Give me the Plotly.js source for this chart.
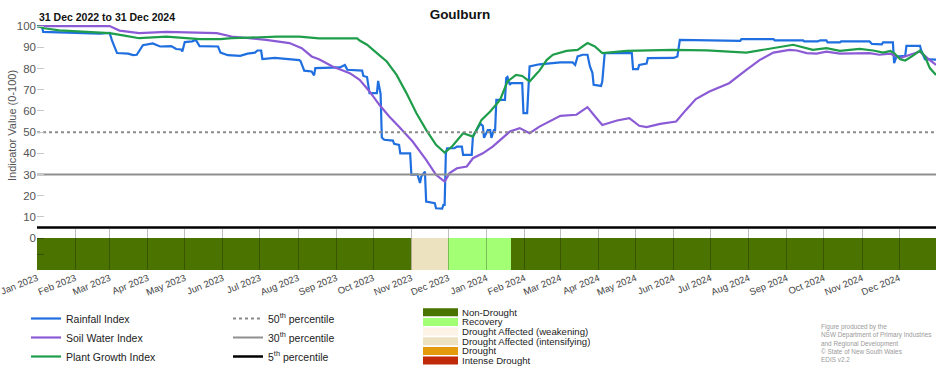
<!DOCTYPE html>
<html><head><meta charset="utf-8">
<script src="https://cdn.plot.ly/plotly-3.0.1.min.js"></script>
<style>html,body{margin:0;padding:0;background:#fff}#chart{width:952px;height:370px}</style>
</head><body><div id="chart"></div>
<script>
const regionName = 'Goulburn';
const periodLabel = '31 Dec 2022 to 31 Dec 2024';
const yAxisLabel = 'Indicator Value (0-100)';
const dateRange = ['2023-01-01', '2024-12-31'];
const yTickValues = [10, 20, 30, 40, 50, 60, 70, 80, 90, 100];

const rainfallDates = ['2023-01-01','2023-01-05','2023-01-06','2023-02-01','2023-02-21','2023-03-01','2023-03-03','2023-03-07','2023-03-16','2023-03-20','2023-03-23','2023-03-28','2023-04-05','2023-04-11','2023-04-20','2023-04-24','2023-04-28','2023-04-29','2023-05-01','2023-05-07','2023-05-10','2023-05-13','2023-05-28','2023-05-30','2023-06-05','2023-06-15','2023-06-21','2023-06-27','2023-06-29','2023-07-02','2023-07-03','2023-07-13','2023-07-25','2023-08-02','2023-08-03','2023-08-06','2023-08-12','2023-08-14','2023-08-15','2023-08-29','2023-09-04','2023-09-08','2023-09-10','2023-09-22','2023-09-23','2023-09-26','2023-09-27','2023-09-28','2023-10-04','2023-10-05','2023-10-07','2023-10-08','2023-10-10','2023-10-17','2023-10-18','2023-10-22','2023-10-23','2023-10-31','2023-11-01','2023-11-06','2023-11-08','2023-11-09','2023-11-12','2023-11-13','2023-11-20','2023-11-21','2023-11-26','2023-11-27','2023-11-28','2023-11-29','2023-11-30','2023-12-06','2023-12-08','2023-12-12','2023-12-13','2023-12-20','2023-12-21','2023-12-23','2023-12-25','2023-12-27','2023-12-29','2023-12-30','2024-01-02','2024-01-04','2024-01-05','2024-01-07','2024-01-08','2024-01-09','2024-01-16','2024-01-17','2024-01-18','2024-01-20','2024-01-21','2024-01-30','2024-01-31','2024-02-03','2024-02-05','2024-02-13','2024-03-01','2024-03-11','2024-03-13','2024-03-15','2024-03-19','2024-03-23','2024-03-25','2024-03-27','2024-03-28','2024-04-03','2024-04-04','2024-04-06','2024-04-28','2024-04-29','2024-05-03','2024-05-04','2024-05-10','2024-05-11','2024-06-01','2024-06-04','2024-06-06','2024-06-28','2024-07-25','2024-07-26','2024-08-21','2024-08-22','2024-09-14','2024-09-15','2024-09-26','2024-09-28','2024-10-03','2024-10-04','2024-10-14','2024-10-15','2024-11-07','2024-11-09','2024-11-17','2024-11-18','2024-11-26','2024-11-27','2024-11-29','2024-12-06','2024-12-07','2024-12-18','2024-12-19','2024-12-22','2024-12-31'];
const rainfallValues = [100,100,97.3,96.8,96.5,96.8,93,87.3,87,86.3,86.5,91,91.8,90.4,90.6,89.2,89,88,92.5,92.8,93.5,90.6,90.4,87.5,86.3,86,87,87.5,88.5,88.5,84.5,85,84.5,84,83.5,79,78.6,76.8,80.2,80.2,80.5,81.7,79.4,79,76.5,76,73,68.4,68.4,74.2,68,47.5,46.4,46,44.5,44,40,40,30,30,26,29,31.4,17.3,16.5,14.1,14,15.7,15.7,40,42.4,42.4,43.2,43.2,39.3,39.3,48,50,52,54,53,47.3,51,51,47.3,51,51,65.2,65.2,75.5,76,72.3,73.1,73.1,59,59,81,82,82.9,82.9,81.7,85.7,86.5,86.5,81,78,72.3,71.8,73.9,87.3,87.3,79.7,79.7,81.7,82.3,84.9,85,85.7,93.5,93.3,93,93.9,93.9,93.3,93.3,92.8,92.8,93.3,93.3,92.3,92.3,92.8,92.8,91.6,91.4,92.3,92.3,82.5,85.7,86,90.7,90.7,88.5,84.4,84.2];

const soilDates = ['2023-01-01','2023-03-01','2023-03-09','2023-03-25','2023-04-16','2023-05-27','2023-06-08','2023-07-06','2023-07-25','2023-08-04','2023-08-12','2023-08-18','2023-08-29','2023-09-12','2023-09-20','2023-09-28','2023-10-06','2023-10-14','2023-10-22','2023-11-02','2023-11-13','2023-11-21','2023-11-28','2023-12-02','2023-12-08','2023-12-16','2023-12-21','2023-12-29','2024-01-06','2024-01-14','2024-01-20','2024-01-28','2024-02-05','2024-02-13','2024-02-21','2024-03-01','2024-03-14','2024-03-23','2024-03-29','2024-04-04','2024-04-16','2024-04-26','2024-05-04','2024-05-10','2024-05-21','2024-06-03','2024-06-11','2024-06-19','2024-06-30','2024-07-16','2024-07-30','2024-08-10','2024-08-21','2024-09-03','2024-09-09','2024-09-17','2024-09-25','2024-10-03','2024-10-14','2024-11-07','2024-11-15','2024-11-24','2024-11-29','2024-12-02','2024-12-10','2024-12-18','2024-12-24','2024-12-31'];
const soilValues = [100,100,97.9,96.7,97.3,96.7,95.1,93.5,92,89.6,85.7,84.4,81,77.8,74.7,69.2,62.9,57.4,52.6,45.6,36.9,29.9,26.7,30.7,33,33.8,37.7,40,43.2,47.2,50.3,51.9,49.5,52.6,55,57.7,58.2,61.8,57.5,53.4,55.5,56.6,53,52.4,53.9,55,60.5,65.6,69.2,73.1,79.4,84.1,87.5,88.8,88.5,87.3,87,88,87,87.3,86.5,87,85.7,84.9,86.5,88,84.9,81.7];

const plantDates = ['2023-01-01','2023-01-05','2023-01-07','2023-01-19','2023-02-07','2023-03-01','2023-03-13','2023-03-25','2023-04-16','2023-05-13','2023-05-30','2023-06-08','2023-07-15','2023-08-02','2023-08-18','2023-09-18','2023-09-20','2023-09-26','2023-10-04','2023-10-12','2023-10-20','2023-10-28','2023-11-05','2023-11-13','2023-11-21','2023-11-28','2023-12-04','2023-12-13','2023-12-21','2023-12-28','2024-01-04','2024-01-12','2024-01-18','2024-01-25','2024-01-30','2024-02-05','2024-02-11','2024-02-13','2024-02-19','2024-02-24','2024-03-06','2024-03-15','2024-03-23','2024-03-29','2024-04-04','2024-04-24','2024-05-31','2024-06-28','2024-07-30','2024-08-21','2024-09-06','2024-09-22','2024-10-03','2024-10-14','2024-10-30','2024-11-10','2024-11-18','2024-11-24','2024-11-27','2024-12-02','2024-12-06','2024-12-12','2024-12-18','2024-12-22','2024-12-26','2024-12-31'];
const plantValues = [100,99.5,99,98,97.5,96.7,95.5,94.3,95,93.9,93.9,94.3,95,95,94.2,94.2,93.2,91.2,87.3,83.3,77,68.4,59,51.1,44,40.4,43.2,49.5,47.9,55.8,59.7,65.2,73.9,77,76.5,73.9,77.8,79,84.1,86.5,88.3,88.8,92,90.4,87.3,88.3,88.8,88.6,87.5,89.6,91.2,88.8,89.6,88.3,89.3,88.5,87.5,88.3,87.3,84.4,83.8,86,88.5,85.7,80.2,77];

const indexNames = ['Rainfall Index', 'Soil Water Index', 'Plant Growth Index'];
const indexColors = ['#1f6fe0', '#8b5bd6', '#1e9d4a'];

const percentileValues = [50, 30, 5];
const percentileNames = ['50<sup>th</sup> percentile', '30<sup>th</sup> percentile', '5<sup>th</sup> percentile'];

const droughtCategories = ['Non-Drought', 'Recovery', 'Drought Affected (weakening)', 'Drought Affected (intensifying)', 'Drought', 'Intense Drought'];
const droughtColors = ['#4b7300', '#a3ff73', '#fcf3e6', '#ede2c0', '#e39a0b', '#c02a08'];
const droughtStart = ['2023-01-01', '2023-11-01', '2023-12-01', '2024-01-21'];
const droughtEnd = ['2023-11-01', '2023-12-01', '2024-01-21', '2025-01-01'];
const droughtStatus = ['Non-Drought', 'Drought Affected (intensifying)', 'Recovery', 'Non-Drought'];

const creditLines = ['Figure produced by the', 'NSW Department of Primary Industries', 'and Regional Development', '\u00a9 State of New South Wales', 'EDIS v2.2'];

const FONT = '"Liberation Sans", Arial, Helvetica, sans-serif';

const indexSeries = [[rainfallDates, rainfallValues], [soilDates, soilValues], [plantDates, plantValues]];
const traces = [];
indexSeries.forEach(function (s, i) {
  traces.push({
    type: 'scatter', mode: 'lines', x: s[0], y: s[1], name: indexNames[i],
    xaxis: 'x', yaxis: 'y', legend: 'legend',
    line: {color: indexColors[i], width: 2.2}, hoverinfo: 'x+y+name'
  });
});
const pctStyles = [
  {color: '#8a8a8a', width: 2, dash: 'dot'},
  {color: '#8f8f8f', width: 2, dash: 'solid'},
  {color: '#000000', width: 2.5, dash: 'solid'}
];
percentileValues.forEach(function (v, i) {
  traces.push({
    type: 'scatter', mode: 'lines', x: dateRange, y: [v, v], name: percentileNames[i],
    xaxis: 'x', yaxis: 'y', legend: 'legend2', line: pctStyles[i], hoverinfo: 'name'
  });
});
traces.push({
  type: 'bar', xaxis: 'x2', yaxis: 'y2', showlegend: false,
  x: droughtStart,
  y: droughtStart.map(function () { return 15; }),
  base: -15,
  offset: 0,
  width: droughtStart.map(function (d, i) { return Date.parse(droughtEnd[i]) - Date.parse(d); }),
  marker: {color: droughtStatus.map(function (s) { return droughtColors[droughtCategories.indexOf(s)]; }), line: {width: 0}},
  text: droughtStatus, hoverinfo: 'text', textposition: 'none'
});

// plot geometry helpers (pixel -> paper)
const L = 37, R = 16, T = 24, B = 100, W = 952, H = 370;
const PW = W - L - R, PH = H - T - B;
function px2x(px) { return (px - L) / PW; }
function py2y(py) { return (H - B - py) / PH; }

const annotations = [
  {xref: 'paper', yref: 'paper', x: 0, y: py2y(17), xanchor: 'left', yanchor: 'middle', showarrow: false,
   text: '<b>' + periodLabel + '</b>', font: {size: 10.5, color: '#111', family: FONT}},
  {xref: 'paper', yref: 'paper', x: px2x(12), y: py2y(126), xanchor: 'center', yanchor: 'middle', showarrow: false,
   textangle: -90, text: yAxisLabel, font: {size: 11, color: '#555', family: FONT}},
  {xref: 'paper', yref: 'paper', x: px2x(819), y: py2y(321), xanchor: 'left', yanchor: 'top', align: 'left', showarrow: false,
   text: creditLines.join('<br>'), font: {size: 6.4, color: '#9a9a9a', family: FONT}}
];
const shapes = [];
droughtCategories.forEach(function (c, i) {
  const yc = 312.3 + i * 9.65;
  shapes.push({type: 'rect', xref: 'paper', yref: 'paper', x0: px2x(423), x1: px2x(458),
    y0: py2y(yc - 4), y1: py2y(yc + 4), fillcolor: droughtColors[i], line: {width: 0}, layer: 'above'});
  annotations.push({xref: 'paper', yref: 'paper', x: px2x(461), y: py2y(yc), xanchor: 'left', yanchor: 'middle',
    showarrow: false, text: c, height: 11, borderpad: 0, font: {size: 9.6, color: '#222', family: FONT}});
});

const layout = {
  width: W, height: H,
  margin: {l: L, r: R, t: T, b: B, autoexpand: false},
  paper_bgcolor: '#ffffff', plot_bgcolor: 'rgba(0,0,0,0)',
  font: {family: FONT, size: 11, color: '#444'},
  title: {text: regionName, xref: 'container', yref: 'container', x: 460 / W, y: 1 - 14 / H,
          xanchor: 'center', yanchor: 'middle', font: {size: 13.5, weight: 'bold', color: '#111', family: FONT}},
  xaxis: {type: 'date', range: dateRange, anchor: 'y', showticklabels: false, ticks: '', showgrid: false, zeroline: false, showline: false, fixedrange: true},
  yaxis: {domain: [0.1638, 1], range: [4, 101], tickvals: yTickValues, ticks: 'inside', ticklen: 7, tickcolor: '#c8c8c8',
          showgrid: false, zeroline: false, showline: false, automargin: false, fixedrange: true,
          tickfont: {size: 11.5, color: '#555'}},
  xaxis2: {type: 'date', range: dateRange, anchor: 'y2', dtick: 'M1', tick0: '2023-01-01', tickformat: '%b %Y', tickangle: -22,
           ticks: 'inside', ticklen: 41, tickwidth: 1, tickcolor: 'rgba(0,0,0,0.25)', layer: 'above traces',
           ticklabeloverflow: 'allow', showgrid: false, zeroline: false, showline: false, automargin: false, fixedrange: true,
           tickfont: {size: 9.5, color: '#444'}},
  yaxis2: {domain: [0, 0.1638], range: [-15, 4], tickvals: [0, -7.5], ticktext: ['0', ' '], ticks: 'inside', ticklen: 7,
           tickcolor: 'rgba(0,0,0,0.3)', layer: 'above traces', showgrid: false, zeroline: false, showline: false,
           automargin: false, fixedrange: true, tickfont: {size: 11.5, color: '#555'}},
  showlegend: true,
  legend: {xref: 'container', yref: 'container', x: 26 / W, y: 1 - 304 / H, xanchor: 'left', yanchor: 'top',
           bgcolor: 'rgba(0,0,0,0)', borderwidth: 0, tracegroupgap: 0, itemwidth: 30,
           font: {size: 10.5, color: '#222', family: FONT}},
  legend2: {xref: 'container', yref: 'container', x: 228 / W, y: 1 - 304 / H, xanchor: 'left', yanchor: 'top',
           bgcolor: 'rgba(0,0,0,0)', borderwidth: 0, tracegroupgap: 0, itemwidth: 30,
           font: {size: 10.5, color: '#222', family: FONT}},
  annotations: annotations,
  shapes: shapes,
  bargap: 0
};

Plotly.newPlot('chart', traces, layout, {displayModeBar: false});
</script>
</body></html>
